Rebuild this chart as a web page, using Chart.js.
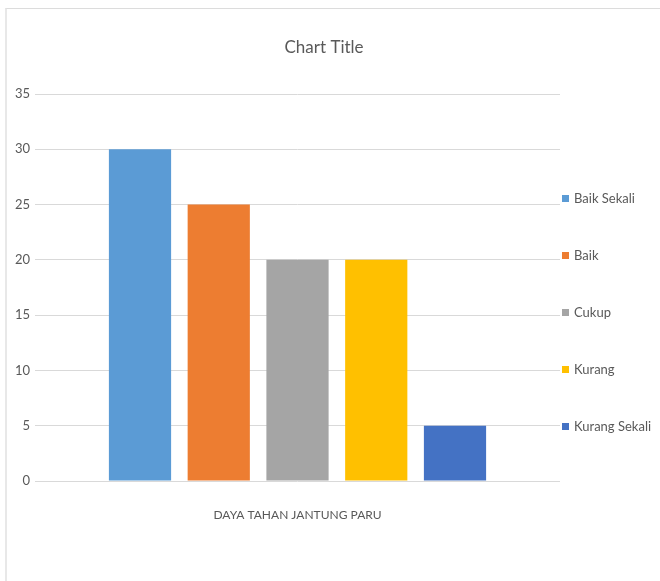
<!DOCTYPE html>
<html>
<head>
<meta charset="utf-8">
<script src="https://cdn.jsdelivr.net/npm/chart.js@4"></script>
<style>
  html, body { margin: 0; padding: 0; background: #ffffff; }
  #wrap { position: relative; width: 660px; height: 581px; overflow: hidden; }
  #frame { position: absolute; left: 5px; top: 8px; right: 0; bottom: 0;
           border-top: 1px solid #dcdcdc; border-left: 2px solid #e8e8e8; }
  #myChart { position: absolute; left: 0; top: 0; }
</style>
</head>
<body>
<div id="wrap">
  <div id="frame"></div>
  <canvas id="myChart" width="660" height="581"></canvas>
</div>
<script>
const categories = ['DAYA TAHAN JANTUNG PARU'];
const seriesNames = ['Baik Sekali', 'Baik', 'Cukup', 'Kurang', 'Kurang Sekali'];
const seriesValues = [30, 25, 20, 20, 5];
const seriesColors = ['#5B9BD5', '#ED7D31', '#A5A5A5', '#FFC000', '#4472C4'];
const yTicks = { min: 0, max: 35, step: 5 };

const fontFamily = "Lato, 'Open Sans', sans-serif";
const textColor = '#595959';

// legend drawn by hand on the right, one row per series
const sideLegend = {
    id: 'sideLegend',
    afterDraw(chart) {
        const ctx = chart.ctx;
        ctx.save();
        ctx.font = '13px ' + fontFamily;
        ctx.textBaseline = 'middle';
        ctx.textAlign = 'left';
        chart.data.datasets.forEach((ds, i) => {
            const y = 199 + i * 57;
            ctx.fillStyle = ds.backgroundColor;
            ctx.fillRect(562, y - 4, 7, 7);
            ctx.fillStyle = textColor;
            ctx.fillText(ds.label, 574, y);
        });
        ctx.restore();
    }
};

const datasets = seriesNames.map((name, i) => ({
    label: name,
    data: [seriesValues[i]],
    backgroundColor: seriesColors[i],
    borderWidth: 0,
    categoryPercentage: 0.75,
    barPercentage: 0.79
}));

new Chart(document.getElementById('myChart').getContext('2d'), {
    type: 'bar',
    data: { labels: categories, datasets: datasets },
    options: {
        responsive: false,
        animation: false,
        layout: { padding: { left: 0, right: 12, top: 0, bottom: 0 } },
        scales: {
            x: {
                grid: { display: false },
                border: { display: false },
                ticks: { color: textColor, padding: 19, font: { family: fontFamily, size: 12 } },
                afterFit: function(scale) { scale.height = 100; }
            },
            y: {
                min: yTicks.min,
                max: yTicks.max,
                ticks: { stepSize: yTicks.step, color: textColor, padding: 5, font: { family: fontFamily, size: 13 } },
                grid: { color: '#d9d9d9', drawTicks: false },
                border: { display: false },
                afterFit: function(scale) { scale.width = 35; }
            },
            // empty axis that reserves the room for the legend
            legendSpace: {
                position: 'right',
                min: yTicks.min,
                max: yTicks.max,
                grid: { display: false },
                border: { display: false },
                ticks: { display: false },
                afterFit: function(scale) { scale.width = 88; }
            }
        },
        plugins: {
            legend: { display: false },
            tooltip: { enabled: false },
            title: {
                display: true,
                text: 'Chart Title',
                color: textColor,
                font: { family: fontFamily, size: 17, weight: 'normal', lineHeight: 1.2 },
                padding: { top: 37, bottom: 36.6 }
            }
        }
    },
    plugins: [sideLegend]
});
</script>
</body>
</html>
